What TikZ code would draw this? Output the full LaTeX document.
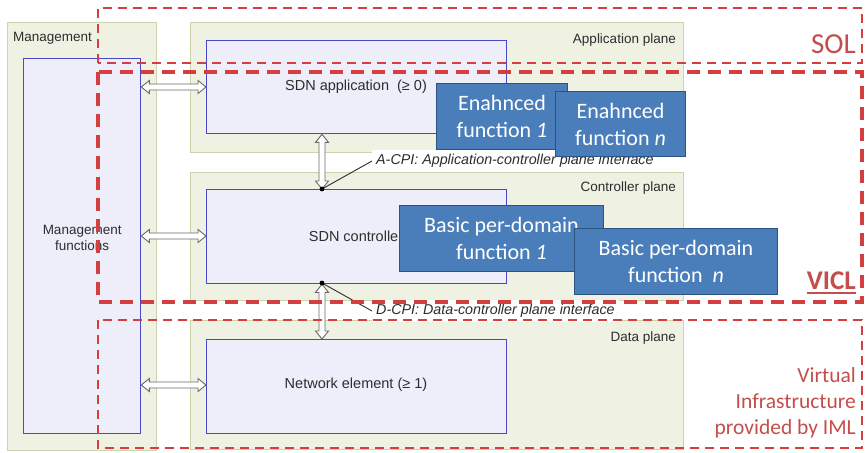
\documentclass[tikz,border=0pt]{standalone}
\usepackage{fontspec}
\setmainfont{Liberation Sans}
\newfontfamily\calfont{Carlito}
\usetikzlibrary{calc}
\definecolor{planefill}{RGB}{239,241,227}
\definecolor{planedraw}{RGB}{203,212,170}
\definecolor{innerfill}{RGB}{238,238,250}
\definecolor{innerdraw}{RGB}{72,72,200}
\definecolor{bluefill}{RGB}{74,126,187}
\definecolor{bluedraw}{RGB}{44,82,130}
\definecolor{reddash}{RGB}{212,62,62}
\definecolor{redtext}{RGB}{196,78,76}
\definecolor{arrowgray}{RGB}{105,105,105}
\definecolor{txt}{RGB}{45,45,45}
% hollow double arrows between two points (horizontal / vertical)
\newcommand\hollowH[2]{%
  \path let \p1=#1, \p2=#2 in
    [draw=arrowgray, fill=white, line width=0.9pt, line join=miter]
    (\x1,\y1) -- (\x1+8pt,\y1+6.5pt) -- (\x1+8pt,\y1+3pt) -- (\x2-8pt,\y1+3pt) -- (\x2-8pt,\y1+6.5pt)
    -- (\x2,\y1) -- (\x2-8pt,\y1-6.5pt) -- (\x2-8pt,\y1-3pt) -- (\x1+8pt,\y1-3pt) -- (\x1+8pt,\y1-6.5pt) -- cycle;}
\newcommand\hollowV[2]{%
  \path let \p1=#1, \p2=#2 in
    [draw=arrowgray, fill=white, line width=0.9pt, line join=miter]
    (\x1,\y1) -- (\x1+6.5pt,\y1-8pt) -- (\x1+3pt,\y1-8pt) -- (\x1+3pt,\y2+8pt) -- (\x1+6.5pt,\y2+8pt)
    -- (\x1,\y2) -- (\x1-6.5pt,\y2+8pt) -- (\x1-3pt,\y2+8pt) -- (\x1-3pt,\y1-8pt) -- (\x1-6.5pt,\y1-8pt) -- cycle;}
\begin{document}
\begin{tikzpicture}[x=1pt,y=-1pt,
  plane/.style={draw=planedraw, fill=planefill, line width=1.2pt, anchor=north west, inner sep=0pt},
  inner/.style={draw=innerdraw, fill=innerfill, line width=1.3pt, anchor=north west, inner sep=0pt},
  bluebox/.style={draw=bluedraw, fill=bluefill, line width=1pt, anchor=north west, inner sep=0pt,
     text=white, font=\calfont\fontsize{22}{27}\selectfont, align=center},
  plabel/.style={text=txt, font=\fontsize{13.5}{16}\selectfont, inner sep=0pt},
  tlabel/.style={text=txt, font=\fontsize{14.5}{17}\selectfont, inner sep=0pt},
  ilabel/.style={text=txt, font=\fontsize{14.3}{16}\selectfont\itshape, fill=white, inner sep=4pt, anchor=west},
  soldash/.style={draw=reddash, line width=2.6pt, dash pattern=on 9pt off 6pt},
  vicldash/.style={draw=reddash, line width=3.4pt, dash pattern=on 13pt off 8pt},
  redlabel/.style={text=redtext, font=\calfont, inner sep=0pt, anchor=east, align=right}
]
\useasboundingbox (0,0) rectangle (866,452);
\fill[white] (0,0) rectangle (866,452);

% planes
\node[plane, minimum width=149pt, minimum height=428pt] (mgmt) at (7,22) {};
\node[plane, minimum width=493pt, minimum height=130pt] (app) at (190,22) {};
\node[plane, minimum width=493pt, minimum height=128pt] (ctrl) at (190,172) {};
\node[plane, minimum width=493pt, minimum height=129pt] (data) at (190,320) {};

% inner boxes
\node[inner, minimum width=117pt, minimum height=375pt] (mf) at (23,58) {};
\node[inner, minimum width=300pt, minimum height=93pt] (sdnapp) at (206,40) {};
\node[inner, minimum width=300pt, minimum height=94pt] (sdnctrl) at (206,189) {};
\node[inner, minimum width=300pt, minimum height=94pt] (ne) at (206,339) {};

% plane labels
\node[plabel, anchor=west] (lmgmt) at (13,38) {Management};
\node[plabel, anchor=east] (lapp) at (676,40) {Application plane};
\node[plabel, anchor=east] (lctrl) at (676,188) {Controller plane};
\node[plabel, anchor=east] (ldata) at (676,338) {Data plane};

% inner texts
\node[plabel, align=center] (tmf) at (mf.center |- 0,238) {Management\\functions};
\node[tlabel] (tapp) at (356,87) {SDN application\ \ (≥ 0)};
\node[tlabel] (tctrl) at (356,236) {SDN controller};
\node[tlabel] (tne) at (356,385) {Network element (≥ 1)};

% hollow double arrows
\coordinate (h1a) at (mf.east |- 0,87);   \coordinate (h1b) at (sdnapp.west |- 0,87);
\coordinate (h2a) at (mf.east |- 0,236);  \coordinate (h2b) at (sdnctrl.west |- 0,236);
\coordinate (h3a) at (mf.east |- 0,385);  \coordinate (h3b) at (ne.west |- 0,385);
\coordinate (v1a) at (sdnapp.south -| 322,0);  \coordinate (v1b) at (sdnctrl.north -| 322,0);
\coordinate (v2a) at (sdnctrl.south -| 322,0); \coordinate (v2b) at (ne.north -| 322,0);
\hollowH{(h1a)}{(h1b)}
\hollowH{(h2a)}{(h2b)}
\hollowH{(h3a)}{(h3b)}
\hollowV{(v1a)}{(v1b)}
\hollowV{(v2a)}{(v2b)}

% interface labels
\node[ilabel] (acpi) at (372,161) {A-CPI: Application-controller plane interface};
\node[ilabel] (dcpi) at (372,311) {D-CPI: Data-controller plane interface};
\coordinate (adot) at (322,189);
\coordinate (ddot) at (322,283);
\draw[txt, line width=0.9pt] (adot) -- (acpi.west);
\draw[txt, line width=0.9pt] (ddot) -- (dcpi.west);
\fill[black] (adot) circle (2.4pt);
\fill[black] (ddot) circle (2.4pt);

% red dashed regions
\draw[soldash] (98,63) -- (98,8) -- (862,8) -- (862,63) -- cycle;
\draw[vicldash] (98,72) rectangle (862,302);
\draw[soldash] (98,320) rectangle (862,448);

% red labels
\node[redlabel, font=\calfont\fontsize{29}{32}\selectfont] (sol) at (856,44) {SOL};
\node[redlabel, font=\calfont\bfseries\fontsize{27}{30}\selectfont] (vicl) at (856,281) {VICL};
\draw[redtext, line width=1.6pt] (vicl.south west) ++(0,3) coordinate (u1) -- (u1 -| vicl.south east);
\node[redlabel, font=\calfont\fontsize{21.5}{26}\selectfont] (vi) at (856,403) {Virtual\\Infrastructure\\provided by IML};

% blue function boxes
\node[bluebox, minimum width=131pt, minimum height=66pt] (ef1) at (436,83) {Enahnced\\function \textit{1}};
\node[bluebox, minimum width=130pt, minimum height=65pt] (efn) at (555,91) {Enahnced\\function \textit{n}};
\node[bluebox, minimum width=204pt, minimum height=66pt] (bp1) at (399,205) {Basic per-domain\\function \textit{1}};
\node[bluebox, minimum width=203pt, minimum height=66pt] (bpn) at (574,228) {Basic per-domain\\function\ \ \textit{n}};
\end{tikzpicture}
\end{document}
